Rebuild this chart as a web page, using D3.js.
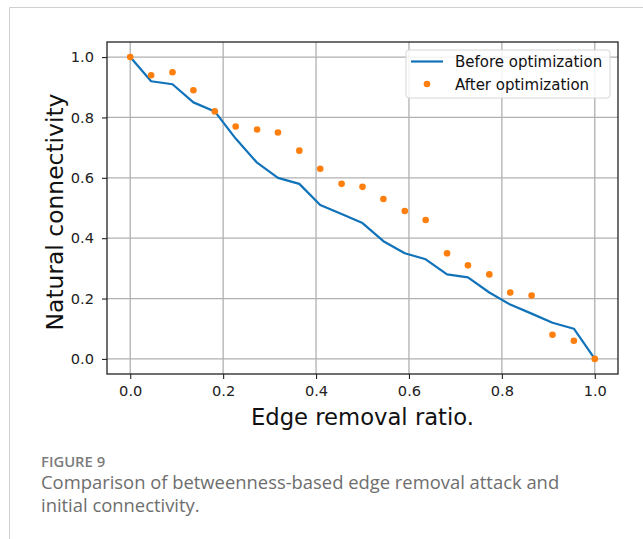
<!DOCTYPE html>
<html>
<head>
<meta charset="utf-8">
<script src="https://cdn.jsdelivr.net/npm/d3@7"></script>
<style>
  html, body { margin: 0; padding: 0; background: #fff; }
  svg { display: block; }
</style>
</head>
<body>
<div id="field"></div>
<script>
'use strict';

// values
const ratio = [0.0, 0.045, 0.091, 0.136, 0.182, 0.227, 0.273, 0.318, 0.364, 0.409, 0.455, 0.5,
               0.545, 0.591, 0.636, 0.682, 0.727, 0.773, 0.818, 0.864, 0.909, 0.955, 1.0];
const before = [1.0, 0.92, 0.91, 0.85, 0.82, 0.73, 0.65, 0.60, 0.58, 0.51, 0.48, 0.45,
                0.39, 0.35, 0.33, 0.28, 0.27, 0.22, 0.18, 0.15, 0.12, 0.10, 0.0];
const after = [1.0, 0.94, 0.95, 0.89, 0.82, 0.77, 0.76, 0.75, 0.69, 0.63, 0.58, 0.57,
               0.53, 0.49, 0.46, 0.35, 0.31, 0.28, 0.22, 0.21, 0.08, 0.06, 0.0];
const xTicks = [0.0, 0.2, 0.4, 0.6, 0.8, 1.0];
const yTicks = [0.0, 0.2, 0.4, 0.6, 0.8, 1.0];
const seriesNames = ['Before optimization', 'After optimization'];

const W = 643, H = 539;
const axL = 107, axR = 618, axT = 42, axB = 374;
const blue = '#1072b8', orange = '#ff7f0e';
const mplFont = '"DejaVu Sans", sans-serif';
const capFont = '"Open Sans", sans-serif';

const svg = d3.select('#field').append('svg').attr('width', W).attr('height', H);

// page frame
svg.append('line').attr('x1', 9.5).attr('x2', W).attr('y1', 7.5).attr('y2', 7.5)
  .attr('stroke', '#d0d0d0').attr('stroke-width', 1);
svg.append('line').attr('x1', 9.5).attr('x2', 9.5).attr('y1', 7.5).attr('y2', H)
  .attr('stroke', '#d0d0d0').attr('stroke-width', 1);

const x = d3.scaleLinear().domain([-0.05, 1.05]).range([axL, axR]);
const y = d3.scaleLinear().domain([-0.05, 1.05]).range([axB, axT]);

// grid
const grid = svg.append('g');
grid.selectAll('.gx').data(xTicks).enter().append('line')
  .attr('x1', d => x(d)).attr('x2', d => x(d)).attr('y1', axT).attr('y2', axB)
  .attr('stroke', '#b0b0b0').attr('stroke-width', 1.3);
grid.selectAll('.gy').data(yTicks).enter().append('line')
  .attr('x1', axL).attr('x2', axR).attr('y1', d => y(d)).attr('y2', d => y(d))
  .attr('stroke', '#b0b0b0').attr('stroke-width', 1.3);

// series
const line = d3.line().x((d, i) => x(ratio[i])).y(d => y(d));
svg.append('path').datum(before).attr('d', line)
  .attr('fill', 'none').attr('stroke', blue).attr('stroke-width', 2.2).attr('stroke-linejoin', 'round');
svg.selectAll('.dot').data(after).enter().append('circle')
  .attr('cx', (d, i) => x(ratio[i])).attr('cy', d => y(d)).attr('r', 3.3).attr('fill', orange);

// axes
const xAxis = svg.append('g').attr('transform', 'translate(0,' + axB + ')')
  .call(d3.axisBottom(x).tickValues(xTicks).tickFormat(d3.format('.1f')).tickSize(5).tickPadding(7));
const yAxis = svg.append('g').attr('transform', 'translate(' + axL + ',0)')
  .call(d3.axisLeft(y).tickValues(yTicks).tickFormat(d3.format('.1f')).tickSize(5).tickPadding(8));
[xAxis, yAxis].forEach(a => {
  a.select('.domain').remove();
  a.selectAll('.tick line').attr('stroke', '#222').attr('stroke-width', 1.1);
  a.selectAll('.tick text').attr('font-family', mplFont).attr('font-size', 14.6).attr('fill', '#222');
});

svg.append('rect').attr('x', axL).attr('y', axT).attr('width', axR - axL).attr('height', axB - axT)
  .attr('fill', 'none').attr('stroke', '#222').attr('stroke-width', 1.3);

// axis labels
svg.append('text').attr('x', (axL + axR) / 2).attr('y', 424.5).attr('text-anchor', 'middle')
  .attr('font-family', mplFont).attr('font-size', 22.7).attr('fill', '#111').text('Edge removal ratio.');
svg.append('text').attr('transform', 'translate(63,212) rotate(-90)')
  .attr('text-anchor', 'middle').attr('font-family', mplFont).attr('font-size', 23.4).attr('fill', '#111')
  .text('Natural connectivity');

// legend
const lg = svg.append('g').attr('transform', 'translate(406,50)');
lg.append('rect').attr('width', 204).attr('height', 48).attr('rx', 3)
  .attr('fill', 'rgba(255,255,255,0.85)').attr('stroke', '#d6d6d6').attr('stroke-width', 1);
lg.append('line').attr('x1', 5).attr('x2', 37).attr('y1', 11.5).attr('y2', 11.5)
  .attr('stroke', blue).attr('stroke-width', 2.2);
lg.append('circle').attr('cx', 21).attr('cy', 34).attr('r', 3.3).attr('fill', orange);
lg.selectAll('.lt').data(seriesNames).enter().append('text')
  .attr('x', 49).attr('y', (d, i) => 17 + i * 22.5)
  .attr('font-family', mplFont).attr('font-size', 15).attr('fill', '#111').text(d => d);

// caption
svg.append('text').attr('x', 41).attr('y', 467).attr('font-family', capFont)
  .attr('font-size', 14.8).attr('font-weight', 600).attr('fill', '#7c7c7c').text('FIGURE 9');
svg.append('text').attr('x', 41).attr('y', 489).attr('font-family', capFont)
  .attr('font-size', 18.4).attr('fill', '#6e6e6e')
  .text('Comparison of betweenness-based edge removal attack and');
svg.append('text').attr('x', 41).attr('y', 512).attr('font-family', capFont)
  .attr('font-size', 18.4).attr('fill', '#6e6e6e').text('initial connectivity.');
</script>
</body>
</html>
